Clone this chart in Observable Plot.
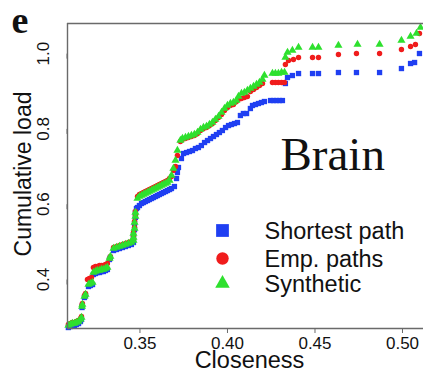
<!DOCTYPE html>
<html>
<head>
<meta charset="utf-8">
<script src="https://cdn.jsdelivr.net/npm/d3@7"></script>
<script src="https://cdn.jsdelivr.net/npm/@observablehq/plot@0.6"></script>
<style>
  html, body { margin: 0; padding: 0; background: #fff; }
  svg { display: block; }
</style>
</head>
<body>
<script>
// ---- data ----
const shortestX = [0.3091,0.3103,0.3114,0.3126,0.3137,0.3149,0.3160,0.3166,0.3169,0.3171,0.3183,0.3189,0.3206,0.3217,0.3229,0.3234,0.3246,0.3257,0.3269,0.3280,0.3291,0.3303,0.3314,0.3326,0.3331,0.3349,0.3366,0.3383,0.3400,0.3417,0.3434,0.3451,0.3463,0.3463,0.3463,0.3469,0.3469,0.3474,0.3474,0.3480,0.3486,0.3497,0.3509,0.3520,0.3531,0.3543,0.3554,0.3566,0.3577,0.3589,0.3600,0.3611,0.3623,0.3634,0.3646,0.3657,0.3669,0.3680,0.3697,0.3709,0.3714,0.3720,0.3737,0.3749,0.3766,0.3783,0.3800,0.3817,0.3834,0.3851,0.3869,0.3886,0.3903,0.3920,0.3937,0.3954,0.3971,0.3989,0.4006,0.4023,0.4040,0.4057,0.4074,0.4091,0.4109,0.4131,0.4143,0.4160,0.4177,0.4194,0.4211,0.4246,0.4263,0.4280,0.4297,0.4314,0.4331,0.4343,0.4371,0.4406,0.4486,0.4520,0.4634,0.4737,0.4869,0.4994,0.5046,0.5069,0.5097];
const shortestY = [0.2725,0.2752,0.2778,0.2778,0.2805,0.2831,0.2884,0.2938,0.3256,0.3309,0.3522,0.3575,0.3814,0.3841,0.3867,0.4133,0.4159,0.4186,0.4186,0.4212,0.4212,0.4239,0.4266,0.4531,0.4584,0.4770,0.4797,0.4823,0.4850,0.4876,0.4903,0.4930,0.4983,0.5089,0.5195,0.5328,0.5487,0.5647,0.5780,0.5886,0.5912,0.5965,0.6019,0.6045,0.6072,0.6098,0.6125,0.6151,0.6178,0.6205,0.6231,0.6258,0.6284,0.6311,0.6337,0.6364,0.6390,0.6417,0.6470,0.6683,0.6842,0.6975,0.7214,0.7347,0.7373,0.7400,0.7426,0.7479,0.7506,0.7559,0.7639,0.7692,0.7745,0.7798,0.7851,0.7904,0.7958,0.8037,0.8090,0.8117,0.8143,0.8170,0.8356,0.8409,0.8409,0.8542,0.8622,0.8648,0.8675,0.8701,0.8728,0.8754,0.8754,0.8754,0.8754,0.8754,0.9206,0.9365,0.9418,0.9471,0.9471,0.9471,0.9498,0.9498,0.9498,0.9604,0.9737,0.9764,1.0003];

const empX = [0.3091,0.3103,0.3114,0.3126,0.3137,0.3149,0.3160,0.3166,0.3169,0.3171,0.3183,0.3189,0.3200,0.3211,0.3223,0.3234,0.3246,0.3257,0.3269,0.3280,0.3291,0.3303,0.3314,0.3326,0.3331,0.3349,0.3366,0.3383,0.3400,0.3417,0.3434,0.3451,0.3463,0.3463,0.3463,0.3469,0.3469,0.3474,0.3474,0.3486,0.3497,0.3509,0.3520,0.3531,0.3543,0.3554,0.3566,0.3577,0.3589,0.3600,0.3611,0.3623,0.3634,0.3646,0.3657,0.3669,0.3680,0.3691,0.3703,0.3714,0.3731,0.3743,0.3760,0.3777,0.3794,0.3811,0.3829,0.3846,0.3863,0.3880,0.3897,0.3914,0.3931,0.3949,0.3966,0.3983,0.4000,0.4017,0.4034,0.4051,0.4063,0.4080,0.4097,0.4114,0.4131,0.4149,0.4166,0.4183,0.4200,0.4257,0.4274,0.4291,0.4309,0.4326,0.4331,0.4349,0.4377,0.4406,0.4486,0.4520,0.4634,0.4737,0.4869,0.4994,0.5046,0.5074,0.5097];
const empY = [0.2805,0.2831,0.2858,0.2858,0.2884,0.2911,0.2964,0.3017,0.3309,0.3363,0.3575,0.3628,0.4000,0.4027,0.4053,0.4319,0.4345,0.4345,0.4372,0.4372,0.4372,0.4398,0.4425,0.4558,0.4611,0.4850,0.4876,0.4903,0.4930,0.4956,0.4983,0.5009,0.5062,0.5142,0.5248,0.5381,0.5541,0.5700,0.5806,0.6205,0.6258,0.6284,0.6311,0.6337,0.6364,0.6390,0.6417,0.6444,0.6470,0.6497,0.6523,0.6550,0.6576,0.6603,0.6629,0.6683,0.6736,0.6895,0.7001,0.7293,0.7665,0.7719,0.7745,0.7772,0.7798,0.7825,0.7878,0.7958,0.8011,0.8037,0.8090,0.8143,0.8223,0.8303,0.8382,0.8489,0.8568,0.8622,0.8648,0.8728,0.8781,0.8808,0.8834,0.8861,0.8993,0.9046,0.9100,0.9153,0.9206,0.9232,0.9232,0.9232,0.9232,0.9232,0.9710,0.9817,0.9843,0.9896,0.9896,0.9896,0.9976,1.0003,1.0003,1.0109,1.0189,1.0242,1.0534];

const synX = [0.3091,0.3103,0.3114,0.3126,0.3137,0.3149,0.3160,0.3166,0.3169,0.3171,0.3183,0.3189,0.3206,0.3217,0.3229,0.3234,0.3246,0.3257,0.3269,0.3280,0.3291,0.3303,0.3314,0.3326,0.3331,0.3349,0.3366,0.3383,0.3400,0.3417,0.3434,0.3451,0.3463,0.3463,0.3463,0.3469,0.3469,0.3474,0.3474,0.3486,0.3497,0.3509,0.3520,0.3531,0.3543,0.3554,0.3566,0.3577,0.3589,0.3600,0.3611,0.3623,0.3634,0.3646,0.3657,0.3669,0.3680,0.3691,0.3703,0.3714,0.3731,0.3743,0.3760,0.3777,0.3794,0.3811,0.3829,0.3846,0.3863,0.3880,0.3897,0.3914,0.3931,0.3949,0.3966,0.3983,0.4000,0.4017,0.4034,0.4051,0.4063,0.4080,0.4097,0.4114,0.4131,0.4149,0.4166,0.4183,0.4200,0.4211,0.4257,0.4274,0.4291,0.4309,0.4326,0.4331,0.4343,0.4371,0.4406,0.4486,0.4520,0.4634,0.4743,0.4869,0.4994,0.5046,0.5080,0.5103];
const synY = [0.2778,0.2805,0.2831,0.2831,0.2858,0.2884,0.2938,0.2991,0.3283,0.3336,0.3548,0.3602,0.3867,0.3894,0.3920,0.4186,0.4212,0.4239,0.4239,0.4266,0.4266,0.4292,0.4319,0.4558,0.4611,0.4823,0.4850,0.4876,0.4903,0.4930,0.4956,0.4983,0.5036,0.5116,0.5222,0.5355,0.5514,0.5673,0.5780,0.6151,0.6205,0.6231,0.6258,0.6284,0.6311,0.6337,0.6364,0.6390,0.6417,0.6444,0.6470,0.6497,0.6523,0.6550,0.6576,0.6629,0.6762,0.6948,0.7161,0.7426,0.7692,0.7745,0.7772,0.7798,0.7825,0.7851,0.7904,0.7984,0.8037,0.8064,0.8117,0.8170,0.8250,0.8329,0.8436,0.8542,0.8622,0.8675,0.8701,0.8754,0.8861,0.8940,0.8967,0.9020,0.9073,0.9126,0.9179,0.9232,0.9312,0.9418,0.9471,0.9471,0.9471,0.9498,0.9498,0.9896,1.0029,1.0082,1.0162,1.0162,1.0162,1.0215,1.0242,1.0242,1.0348,1.0454,1.0534,1.0693];

const seriesNames = ["Shortest path", "Emp. paths", "Synthetic"];
const xTicks = [0.35, 0.40, 0.45, 0.50];
const yTicks = [0.4, 0.6, 0.8, 1.0];
const xDomain = [0.3086, 0.5120];
const yDomain = [0.2699, 1.0800];
const panelLetter = "e";
const panelTitle = "Brain";
const xLabel = "Closeness";
const yLabel = "Cumulative load";

// ---- styling ----
const colors = {"Shortest path": "#1f3ff2", "Emp. paths": "#f01c1c", "Synthetic": "#2ee02e"};
const symbols = {"Shortest path": "square", "Emp. paths": "circle", "Synthetic": "triangle"};
const axisColor = "#6a6a6a";
const sans = "'Liberation Sans', Arial, Helvetica, sans-serif";
const serif = "'Liberation Serif', 'Times New Roman', serif";

const toRows = (xs, ys) => xs.map((x, i) => ({x, y: ys[i]}));
const shortest = toRows(shortestX, shortestY);
const emp = toRows(empX, empY);
const syn = toRows(synX, synY);

const legendDy = [207, 235, 260];
const legendR = {"Shortest path": 7.2, "Emp. paths": 6.2, "Synthetic": 5.4};

const legendMarks = seriesNames.flatMap((name, i) => [
  Plot.dot([name], {frameAnchor: "top-left", dx: 155, dy: legendDy[i], symbol: symbols[name], r: legendR[name], fill: colors[name], stroke: "none"}),
  Plot.text([name], {frameAnchor: "top-left", dx: 197, dy: legendDy[i] + 1, text: d => d, textAnchor: "start", lineAnchor: "middle", fontSize: 23.5, fill: "#111", fontFamily: sans})
]);

const chart = Plot.plot({
  width: 423,
  height: 372,
  marginLeft: 67,
  marginRight: 0,
  marginTop: 23,
  marginBottom: 44,
  style: {fontFamily: sans, background: "#fff", overflow: "visible"},
  x: {domain: xDomain, label: null},
  y: {domain: yDomain, label: null},
  marks: [
    Plot.dot(shortest, {x: "x", y: "y", symbol: "square", r: 3.0, fill: colors["Shortest path"], stroke: "none"}),
    Plot.dot(emp, {x: "x", y: "y", symbol: "circle", r: 2.7, fill: colors["Emp. paths"], stroke: "none"}),
    Plot.dot(syn, {x: "x", y: "y", symbol: "triangle", r: 3.0, fill: colors["Synthetic"], stroke: "none"}),
    Plot.ruleX([xDomain[0]], {stroke: axisColor, strokeWidth: 1.4}),
    Plot.ruleY(yDomain, {stroke: axisColor, strokeWidth: 1.4}),
    Plot.axisX(xTicks, {tickSize: 5, tickPadding: 3, tickFormat: d3.format(".2f"), fontSize: 17, stroke: axisColor, fill: "#111", label: null}),
    Plot.axisY(yTicks, {tickSize: 5, tickPadding: 14, tickFormat: d3.format(".1f"), fontSize: 17, stroke: axisColor, fill: "#111", rotate: -90, textAnchor: "middle", lineAnchor: "bottom", label: null}),
    Plot.text([xLabel], {frameAnchor: "bottom", dx: 4, dy: 39.5, lineAnchor: "bottom", textAnchor: "middle", text: d => d, fontSize: 23.5, fill: "#111", fontFamily: sans}),
    Plot.text([yLabel], {frameAnchor: "left", dx: -44, dy: -2, rotate: -90, textAnchor: "middle", lineAnchor: "middle", text: d => d, fontSize: 23, fill: "#111", fontFamily: sans}),
    Plot.text([panelTitle], {frameAnchor: "top-left", dx: 213, dy: 146, lineAnchor: "bottom", textAnchor: "start", text: d => d, fontSize: 47, fill: "#111", fontFamily: serif}),
    Plot.text([panelLetter], {frameAnchor: "top-left", dx: -56, dy: 9, lineAnchor: "bottom", textAnchor: "start", text: d => d, fontSize: 38, fontWeight: "bold", fill: "#111", fontFamily: serif}),
    ...legendMarks
  ]
});
document.body.appendChild(chart);
</script>
</body>
</html>
